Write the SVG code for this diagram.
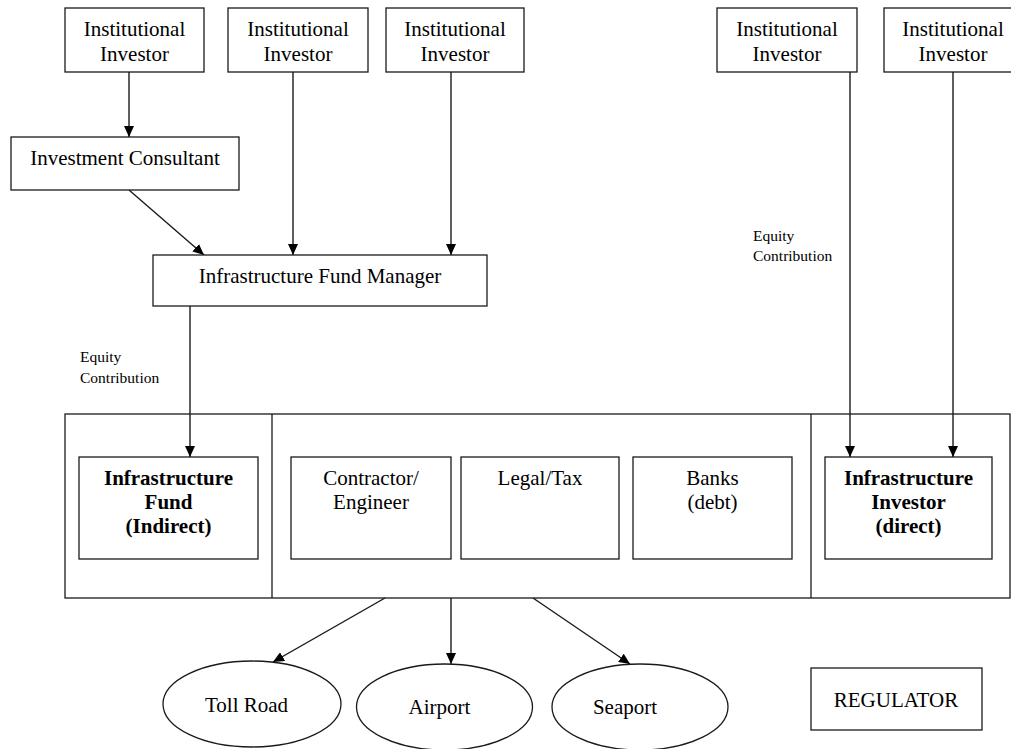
<svg xmlns="http://www.w3.org/2000/svg" width="1011" height="749" viewBox="0 0 1011 749">
<style>
.box{fill:#fff;stroke:#1a1a1a;stroke-width:1.3}
.t{font-family:"Liberation Serif","Times New Roman",serif;font-size:21px;fill:#000;text-anchor:middle}
.b{font-weight:bold}
.s{font-family:"Liberation Serif","Times New Roman",serif;font-size:15.5px;fill:#000}
.c{stroke:#1a1a1a;stroke-width:1.4;fill:none;marker-end:url(#ah)}
</style>
<defs>
<marker id="ah" markerUnits="userSpaceOnUse" markerWidth="12" markerHeight="10" refX="11" refY="5" orient="auto">
<path d="M0,0 L11,5 L0,10 z" fill="#000"/>
</marker>
</defs>
<rect width="1011" height="749" fill="#fff"/>

<g id="container">
<rect class="box" x="65" y="414" width="945" height="184"/>
<line x1="272" y1="414" x2="272" y2="598" stroke="#1a1a1a" stroke-width="1.3"/>
<line x1="811" y1="414" x2="811" y2="598" stroke="#1a1a1a" stroke-width="1.3"/>
</g>

<g id="connectors">
<line class="c" x1="129" y1="72" x2="129" y2="137"/>
<line class="c" x1="129" y1="190" x2="204" y2="255"/>
<line class="c" x1="293" y1="72" x2="293" y2="255"/>
<line class="c" x1="451" y1="72" x2="451" y2="255"/>
<line class="c" x1="190" y1="306" x2="190" y2="457"/>
<line class="c" x1="850" y1="72" x2="850" y2="457"/>
<line class="c" x1="953" y1="72" x2="953" y2="457"/>
<line class="c" x1="385" y1="598" x2="273" y2="662"/>
<line class="c" x1="451" y1="598" x2="451" y2="664"/>
<line class="c" x1="533" y1="598" x2="630" y2="664"/>
<text class="s" x="80" y="362">Equity</text>
<text class="s" x="80" y="383">Contribution</text>
<text class="s" x="753" y="241">Equity</text>
<text class="s" x="753" y="261">Contribution</text>
</g>

<g id="inv1">
<rect class="box" x="65" y="8" width="139" height="64"/>
<text class="t" x="134.5" y="36">Institutional</text>
<text class="t" x="134.5" y="61">Investor</text>
</g>
<g id="inv2">
<rect class="box" x="228" y="8" width="140" height="64"/>
<text class="t" x="298" y="36">Institutional</text>
<text class="t" x="298" y="61">Investor</text>
</g>
<g id="inv3">
<rect class="box" x="386" y="8" width="138" height="64"/>
<text class="t" x="455" y="36">Institutional</text>
<text class="t" x="455" y="61">Investor</text>
</g>
<g id="inv4">
<rect class="box" x="717" y="8" width="140" height="64"/>
<text class="t" x="787" y="36">Institutional</text>
<text class="t" x="787" y="61">Investor</text>
</g>
<g id="inv5">
<rect class="box" x="884" y="8" width="140" height="64"/>
<text class="t" x="953" y="36">Institutional</text>
<text class="t" x="953" y="61">Investor</text>
</g>

<g id="consultant">
<rect class="box" x="11" y="137" width="228" height="53"/>
<text class="t" x="125" y="165">Investment Consultant</text>
</g>

<g id="fundmanager">
<rect class="box" x="153" y="255" width="334" height="51"/>
<text class="t" x="320" y="283">Infrastructure Fund Manager</text>
</g>

<g id="fund">
<rect class="box" x="79" y="457" width="179" height="102"/>
<text class="t b" x="168.5" y="485">Infrastructure</text>
<text class="t b" x="168.5" y="509">Fund</text>
<text class="t b" x="168.5" y="533">(Indirect)</text>
</g>

<g id="contractor">
<rect class="box" x="291" y="457" width="160" height="102"/>
<text class="t" x="371" y="485">Contractor/</text>
<text class="t" x="371" y="509">Engineer</text>
</g>

<g id="legal">
<rect class="box" x="461" y="457" width="158" height="102"/>
<text class="t" x="540" y="485">Legal/Tax</text>
</g>

<g id="banks">
<rect class="box" x="633" y="457" width="159" height="102"/>
<text class="t" x="712.5" y="485">Banks</text>
<text class="t" x="712.5" y="509">(debt)</text>
</g>

<g id="direct">
<rect class="box" x="825" y="457" width="167" height="102"/>
<text class="t b" x="908.5" y="485">Infrastructure</text>
<text class="t b" x="908.5" y="509">Investor</text>
<text class="t b" x="908.5" y="533">(direct)</text>
</g>

<g id="tollroad">
<ellipse class="box" cx="252" cy="704" rx="89" ry="43"/>
<text class="t" x="246.5" y="712">Toll Road</text>
</g>
<g id="airport">
<ellipse class="box" cx="444.5" cy="707" rx="88" ry="43"/>
<text class="t" x="439.5" y="714">Airport</text>
</g>
<g id="seaport">
<ellipse class="box" cx="640" cy="707" rx="88" ry="43"/>
<text class="t" x="625" y="714">Seaport</text>
</g>

<g id="regulator">
<rect class="box" x="811" y="668" width="171" height="62"/>
<text class="t" x="896" y="707">REGULATOR</text>
</g>
</svg>
